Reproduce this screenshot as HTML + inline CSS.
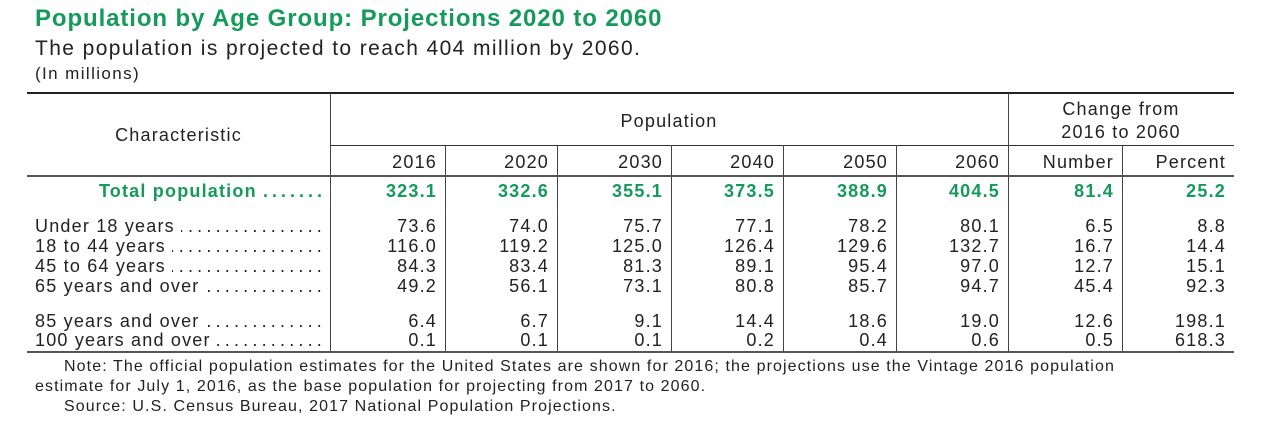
<!DOCTYPE html>
<html><head><meta charset="utf-8"><style>
body{margin:0;width:1280px;height:435px;background:#fff;position:relative;overflow:hidden;font-family:"Liberation Sans",sans-serif;color:#222}
.a{position:absolute;white-space:nowrap;line-height:20px;letter-spacing:1.2px}
.r{text-align:right}
.c{text-align:center}
.g{color:#159a5c;font-weight:bold}
.h{position:absolute;background:#333;height:1px}
.v{position:absolute;background:#444;width:1px}
.row{position:absolute;left:35px;width:291px;display:flex;font-size:18px;line-height:20px;letter-spacing:1.2px}
.row .d{flex:1;overflow:hidden;direction:rtl;white-space:nowrap;letter-spacing:4.2px;margin-left:6px}
</style></head><body>
<div class="a g" style="left:35px;top:5px;font-size:24px;line-height:28px;letter-spacing:0.9px">Population by Age Group: Projections 2020 to 2060</div>
<div class="a" style="left:35px;top:37px;font-size:21px;line-height:24px;letter-spacing:1.4px">The population is projected to reach 404 million by 2060.</div>
<div class="a" style="left:35px;top:64px;font-size:17px;letter-spacing:1.4px">(In millions)</div>

<div class="h" style="left:27px;width:1207px;top:92px;height:2px;background:#222"></div>
<div class="h" style="left:330px;width:904px;top:145px"></div>
<div class="h" style="left:27px;width:1207px;top:175px;height:2px;background:#555"></div>
<div class="h" style="left:27px;width:1207px;top:351px;height:2px;background:#555"></div>
<div class="v" style="left:330px;top:93px;height:259px"></div>
<div class="v" style="left:1008px;top:93px;height:259px"></div>
<div class="v" style="left:445px;top:145px;height:207px"></div>
<div class="v" style="left:557px;top:145px;height:207px"></div>
<div class="v" style="left:671px;top:145px;height:207px"></div>
<div class="v" style="left:783px;top:145px;height:207px"></div>
<div class="v" style="left:896px;top:145px;height:207px"></div>
<div class="v" style="left:1122px;top:145px;height:207px"></div>

<div class="a c" style="left:27px;width:303px;top:125px;font-size:18px">Characteristic</div>
<div class="a c" style="left:330px;width:678px;top:111px;font-size:18px">Population</div>
<div class="a c" style="left:1008px;width:226px;top:98px;font-size:18px;line-height:23px">Change from<br>2016 to 2060</div>

<div id="t"></div>
<script>
var rights=[437,549,663,775,888,1000,1114,1226];
var hdr=["2016","2020","2030","2040","2050","2060","Number","Percent"];
var rows=[
[191,"Total population",1,["323.1","332.6","355.1","373.5","388.9","404.5","81.4","25.2"]],
[226,"Under 18 years",0,["73.6","74.0","75.7","77.1","78.2","80.1","6.5","8.8"]],
[246,"18 to 44 years",0,["116.0","119.2","125.0","126.4","129.6","132.7","16.7","14.4"]],
[266,"45 to 64 years",0,["84.3","83.4","81.3","89.1","95.4","97.0","12.7","15.1"]],
[286,"65 years and over",0,["49.2","56.1","73.1","80.8","85.7","94.7","45.4","92.3"]],
[321,"85 years and over",0,["6.4","6.7","9.1","14.4","18.6","19.0","12.6","198.1"]],
[340,"100 years and over",0,["0.1","0.1","0.1","0.2","0.4","0.6","0.5","618.3"]]];
var h="";
hdr.forEach(function(s,i){h+='<div class="a r" style="left:'+(rights[i]-120)+'px;width:120px;top:152px;font-size:18px">'+s+'</div>';});
var dots="........................................";
rows.forEach(function(r){
 var y=r[0]-10;
 if(r[2]){h+='<div class="a r g" style="left:35px;width:291px;top:'+y+'px;font-size:18px">'+r[1]+' <span style="letter-spacing:4px">.......</span></div>';}
 else{h+='<div class="row" style="top:'+y+'px"><span>'+r[1]+'</span><span class="d">'+dots+'</span></div>';}
 r[3].forEach(function(s,i){h+='<div class="a r'+(r[2]?' g':'')+'" style="left:'+(rights[i]-120)+'px;width:120px;top:'+y+'px;font-size:18px">'+s+'</div>';});
});
document.getElementById("t").innerHTML=h;
</script>

<div class="a" style="left:64px;top:357px;font-size:16px;letter-spacing:1.1px">Note: The official population estimates for the United States are shown for 2016; the projections use the Vintage 2016 population</div>
<div class="a" style="left:35px;top:377px;font-size:16px;letter-spacing:1.1px">estimate for July 1, 2016, as the base population for projecting from 2017 to 2060.</div>
<div class="a" style="left:64px;top:397px;font-size:16px;letter-spacing:1.1px">Source: U.S. Census Bureau, 2017 National Population Projections.</div>
</body></html>
